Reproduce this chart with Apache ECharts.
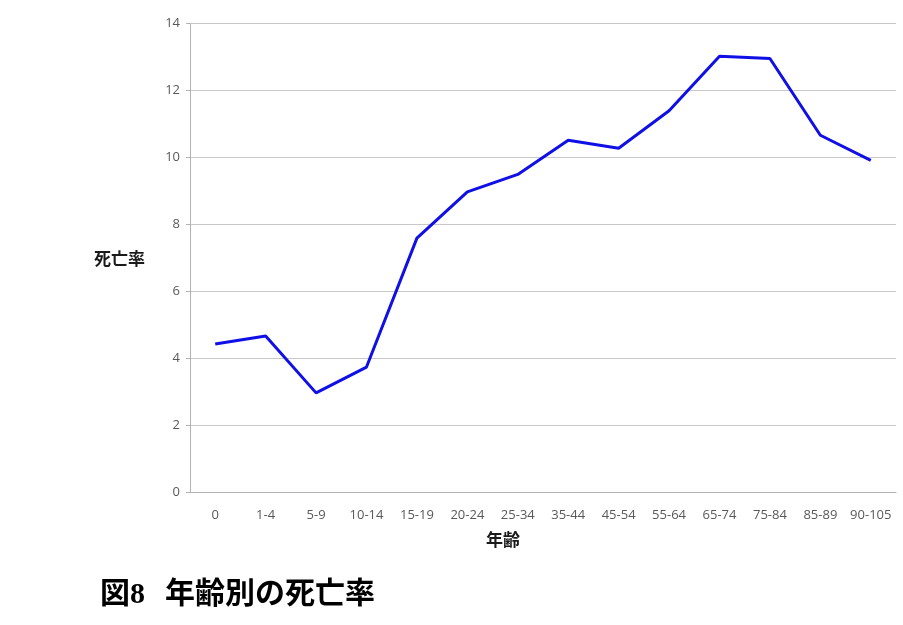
<!DOCTYPE html>
<html><head><meta charset="utf-8">
<script src="https://cdn.jsdelivr.net/npm/echarts@6/dist/echarts.min.js"></script>
<style>html,body{margin:0;padding:0;background:#fff}#c{width:903px;height:625px}</style>
</head><body><div id="c"></div>
<script>
const categories = ['0','1-4','5-9','10-14','15-19','20-24','25-34','35-44','45-54','55-64','65-74','75-84','85-89','90-105'];
const mortality = [4.44, 4.68, 2.98, 3.75, 7.60, 8.98, 9.50, 10.52, 10.28, 11.40, 13.03, 12.96, 10.67, 9.92];
const yTicks = [0, 2, 4, 6, 8, 10, 12, 14];

const chart = echarts.init(document.getElementById('c'));
chart.setOption({
  animation: false,
  grid: { left: 190, right: 7, top: 23.7, bottom: 132.3, containLabel: false },
  xAxis: {
    type: 'category', data: categories, boundaryGap: true,
    axisLine: { lineStyle: { color: '#b3b3b3', width: 1 } },
    axisTick: { show: false },
    axisLabel: { color: '#595959', fontSize: 13, fontFamily: 'Open Sans, Liberation Sans, sans-serif', margin: 16, interval: 0 }
  },
  yAxis: {
    type: 'value', min: yTicks[0], max: yTicks[yTicks.length - 1], interval: 2,
    axisLine: { show: true, lineStyle: { color: '#b3b3b3', width: 1 } },
    axisTick: { show: true, length: 4, lineStyle: { color: '#b3b3b3' } },
    splitLine: { lineStyle: { color: '#c8c8c8', width: 1 } },
    axisLabel: { color: '#595959', fontSize: 13, fontFamily: 'Open Sans, Liberation Sans, sans-serif', margin: 10, padding: [2, 0, 0, 0] }
  },
  series: [{
    type: 'line', data: mortality, symbol: 'none',
    lineStyle: { color: '#1010e6', width: 3 }
  }],
  graphic: [
    { type: 'text', left: 94, top: 250, style: { text: '死亡率', font: 'bold 17px "Noto Sans CJK JP"', fill: '#1a1a1a' } },
    { type: 'text', left: 486, top: 531, style: { text: '年齢', font: 'bold 17px "Noto Sans CJK JP"', fill: '#1a1a1a' } },
    { type: 'text', x: 100, y: 595, style: { text: '図8', font: 'bold 30px "Liberation Serif", "Noto Sans CJK JP"', fill: '#000', verticalAlign: 'middle', align: 'left' } },
    { type: 'text', x: 165, y: 592, style: { text: '年齢別の死亡率', font: 'bold 30px "Noto Sans CJK JP"', fill: '#000', verticalAlign: 'middle', align: 'left' } }
  ]
});
</script></body></html>
